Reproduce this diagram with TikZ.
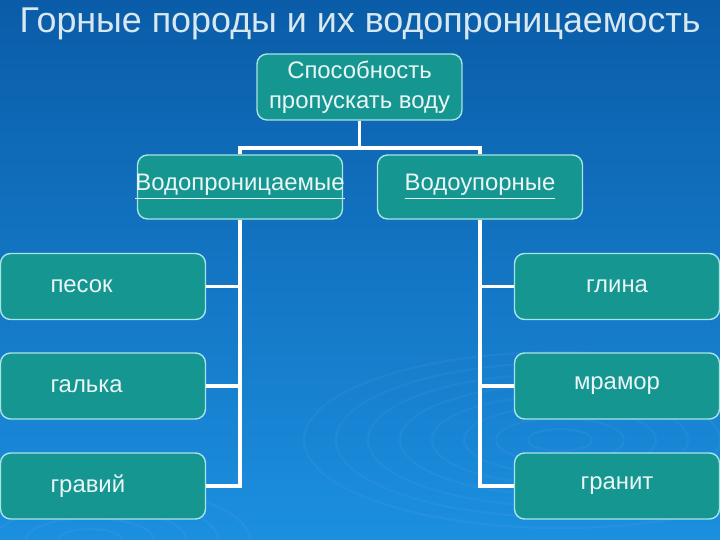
\documentclass[tikz,border=0pt]{standalone}
\usepackage{fontspec}
\setmainfont{Liberation Sans}
\usepackage{xcolor}

\definecolor{bgtop}{HTML}{0A5CA8}
\definecolor{bgbot}{HTML}{1C8FDF}
\definecolor{boxfill}{HTML}{159690}
\definecolor{boxline}{HTML}{A8E4E6}
\definecolor{titlecol}{HTML}{D8E8F0}
\definecolor{boxtext}{HTML}{EAF6F6}

\begin{document}
\begin{tikzpicture}[
  x=0.02cm, y=-0.02cm,
  box/.style={draw=boxline,line width=0.8pt,fill=boxfill,rounded corners=0.2cm,text=boxtext,
    font=\fontsize{13.6}{17}\selectfont,minimum width=4.1cm,minimum height=1.32cm,align=center,inner sep=0pt},
  leftbox/.style={box,text width=2.1cm,align=left,inner xsep=1cm},
  link/.style={draw=white,line width=2.2pt},
  ripple/.style={draw=white,opacity=0.04,line width=1.2pt}
]
  \useasboundingbox (0,0) rectangle (720,540);
  \shade[top color=bgtop,bottom color=bgbot] (0,0) rectangle (720,540);
  \foreach \r in {20,40,...,160}
    \draw[ripple] (560,440) ellipse ({\r*1.6} and \r*0.55);
  \foreach \r in {20,40,...,100}
    \draw[ripple] (90,540) ellipse ({\r*1.6} and \r*0.55);

  \node[text=titlecol,font=\fontsize{20.4}{24}\selectfont] (title) at (360,24) {Горные породы и их водопроницаемость};

  \node[box] (top) at (359.5,87) {Способность\\пропускать воду};
  \node[box,minimum height=1.28cm] (perm) at (240,187) {\makebox[4cm]{\underline{Водопроницаемые}}};
  \node[box,minimum height=1.28cm] (imperm) at (480,187) {\underline{Водоупорные}};

  \node[leftbox] (sand) at (103,286.5) {песок};
  \node[leftbox] (pebble) at (103,386) {галька};
  \node[leftbox] (gravel) at (103,486) {гравий};

  \node[box] (clay) at (617,286.5) {глина};
  \node[box] (marble) at (617,386) {мрамор};
  \node[box] (granite) at (617,486) {гранит};

  \draw[link] (top.south) -- ++(0,27) coordinate (fork);
  \draw[link] (perm.north) |- (fork) -| (imperm.north);

  \draw[link] (perm.south) |- (gravel.east);
  \draw[link] (sand.east) -- (sand.east -| perm.south);
  \draw[link] (pebble.east) -- (pebble.east -| perm.south);

  \draw[link] (imperm.south) |- (granite.west);
  \draw[link] (clay.west) -- (clay.west -| imperm.south);
  \draw[link] (marble.west) -- (marble.west -| imperm.south);
\end{tikzpicture}
\end{document}
